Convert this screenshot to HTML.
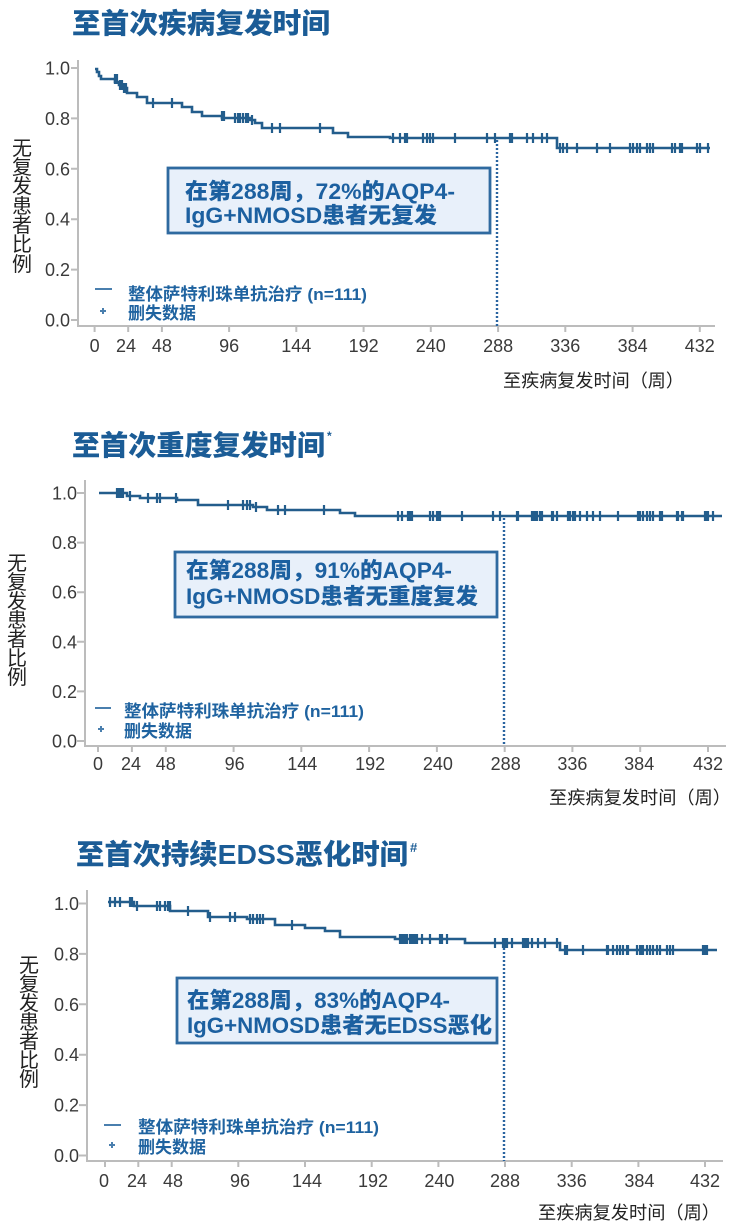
<!DOCTYPE html>
<html><head><meta charset="utf-8"><style>
html,body{margin:0;padding:0;background:#fff;}
svg{display:block;}
text{font-family:"Liberation Sans","Noto Sans CJK SC",sans-serif;}
.t{font-size:28px;font-weight:900;fill:#1b5c96;}
.tk{font-size:18px;fill:#3a3a3a;}
.ya{font-size:20px;fill:#222;text-anchor:middle;}
.xa{font-size:18px;fill:#222;}
.lg{font-size:17px;font-weight:bold;fill:#1f63a0;}
.bx{font-size:22px;font-weight:900;fill:#1c60a0;}
.ax{stroke:#bcbcbc;stroke-width:2;fill:none;}
.cv{stroke:#235d8c;stroke-width:2.6;fill:none;}
.cs{stroke:#235d8c;stroke-width:2.2;fill:none;}
.dt{stroke:#2a64a0;stroke-width:2.4;stroke-dasharray:2 2;fill:none;}
.box{fill:#e8f0fa;stroke:#2f6aa0;stroke-width:2.8;}
.lgm{stroke:#4a7fae;stroke-width:2;fill:none;}
</style></head><body>
<svg width="742" height="1232" viewBox="0 0 742 1232" xmlns="http://www.w3.org/2000/svg">

<!-- ================= CHART 1 ================= -->
<text class="t" x="72" y="33" textLength="258" lengthAdjust="spacingAndGlyphs">至首次疾病复发时间</text>

<g class="ya">
<text x="22" y="155">无</text><text x="22" y="174">复</text><text x="22" y="193">发</text><text x="22" y="213">患</text><text x="22" y="232">者</text><text x="22" y="251">比</text><text x="22" y="271">例</text>
</g>

<path class="ax" d="M78 60V326H715"/>
<path class="ax" d="M71 68H78M71 118.4H78M71 168.8H78M71 219.2H78M71 269.6H78M71 320H78"/>
<path class="ax" d="M94.6 326v6M128.2 326v6M161.9 326v6M229.1 326v6M296.3 326v6M363.6 326v6M430.8 326v6M498.1 326v6M565.3 326v6M632.6 326v6M699.8 326v6"/>
<g class="tk" text-anchor="end">
<text x="70" y="74.5">1.0</text><text x="70" y="124.9">0.8</text><text x="70" y="175.3">0.6</text><text x="70" y="225.7">0.4</text><text x="70" y="276.1">0.2</text><text x="70" y="326.5">0.0</text>
</g>
<g class="tk" text-anchor="middle">
<text x="94.6" y="352">0</text><text x="126" y="352">24</text><text x="161.9" y="352">48</text><text x="229.1" y="352">96</text><text x="296.3" y="352">144</text><text x="363.6" y="352">192</text><text x="430.8" y="352">240</text><text x="498.1" y="352">288</text><text x="565.3" y="352">336</text><text x="632.6" y="352">384</text><text x="699.8" y="352">432</text>
</g>
<text class="xa" x="503" y="387" textLength="181" lengthAdjust="spacingAndGlyphs">至疾病复发时间（周）</text>

<path class="dt" d="M497 140V326"/>
<path class="cv" d="M95 69H97V72H99V76H101V79H115V82H119V85H123V88H127V93H137V97H147V103H182V107H192V112H202V116H222V118H250V120H255V123H262V128H333V133H348V137H390V138H557V148H710"/>
<path class="cs" d="M115 74v10M117 74v10M120 80v10M122 80v10M124 83v10M126 83v10M153 98v10M172 98v10M222 111v10M224 111v10M235 113v10M238 113v10M240 113v10M243 113v10M246 113v10M248 113v10M252 115v10M272 123v10M280 123v10M320 123v10M393 133v10M400 133v10M405 133v10M407 133v10M423 133v10M427 133v10M430 133v10M433 133v10M455 133v10M487 133v10M495 133v10M510 133v10M512 133v10M527 133v10M533 133v10M542 133v10M547 133v10M560 143v10M563 143v10M567 143v10M577 143v10M597 143v10M610 143v10M630 143v10M633 143v10M637 143v10M640 143v10M647 143v10M650 143v10M653 143v10M672 143v10M675 143v10M680 143v10M682 143v10M697 143v10M700 143v10M708 143v10"/>

<rect class="box" x="168" y="168" width="322" height="65"/>
<text class="bx" x="185" y="199" textLength="270" lengthAdjust="spacingAndGlyphs">在第288周，72%的AQP4-</text>
<text class="bx" x="185" y="223" textLength="252" lengthAdjust="spacingAndGlyphs">IgG+NMOSD患者无复发</text>

<path class="lgm" d="M95 289H112M100 311H106M103 308V314"/>
<text class="lg" x="128" y="300" textLength="239" lengthAdjust="spacingAndGlyphs">整体萨特利珠单抗治疗 (n=111)</text>
<text class="lg" x="128" y="319" textLength="68" lengthAdjust="spacingAndGlyphs">删失数据</text>

<!-- ================= CHART 2 ================= -->
<text class="t" x="72" y="455" textLength="253" lengthAdjust="spacingAndGlyphs">至首次重度复发时间</text>
<text x="327" y="440" style="font-size:12px;font-weight:bold;fill:#1b5c96">*</text>

<g class="ya">
<text x="17" y="570">无</text><text x="17" y="589">复</text><text x="17" y="608">发</text><text x="17" y="627">患</text><text x="17" y="646">者</text><text x="17" y="665">比</text><text x="17" y="684">例</text>
</g>

<path class="ax" d="M85 480V746H726"/>
<path class="ax" d="M77 493H85M77 542.6H85M77 592.2H85M77 641.8H85M77 691.4H85M77 741H85"/>
<path class="ax" d="M98 746v6M131.9 746v6M165.8 746v6M233.6 746v6M301.3 746v6M369.1 746v6M436.9 746v6M504.7 746v6M572.4 746v6M640.2 746v6M708 746v6"/>
<g class="tk" text-anchor="end">
<text x="77" y="499.5">1.0</text><text x="77" y="549.1">0.8</text><text x="77" y="598.7">0.6</text><text x="77" y="648.3">0.4</text><text x="77" y="697.9">0.2</text><text x="77" y="747.5">0.0</text>
</g>
<g class="tk" text-anchor="middle">
<text x="98" y="770">0</text><text x="131" y="770">24</text><text x="165.8" y="770">48</text><text x="234.6" y="770">96</text><text x="302.3" y="770">144</text><text x="370.1" y="770">192</text><text x="437.9" y="770">240</text><text x="505.7" y="770">288</text><text x="572.4" y="770">336</text><text x="639.2" y="770">384</text><text x="708" y="770">432</text>
</g>
<text class="xa" x="549" y="804" textLength="182" lengthAdjust="spacingAndGlyphs">至疾病复发时间（周）</text>

<path class="dt" d="M504 518V746"/>
<path class="cv" d="M99 493H127V496H140V498H177V500H198V505H253V507H267V510H340V513H355V516H722"/>
<path class="cs" d="M117 488v10M119 488v10M121 488v10M123 488v10M130 491v10M148 493v10M157 493v10M160 493v10M176 493v10M228 500v10M243 500v10M247 500v10M250 500v10M256 502v10M278 505v10M285 505v10M324 505v10M398 511v10M402 511v10M408 511v10M410 511v10M412 511v10M430 511v10M433 511v10M437 511v10M438 511v10M440 511v10M462 511v10M493 511v10M500 511v10M517 511v10M518 511v10M532 511v10M533 511v10M535 511v10M537 511v10M540 511v10M542 511v10M552 511v10M553 511v10M557 511v10M568 511v10M570 511v10M573 511v10M575 511v10M580 511v10M587 511v10M593 511v10M600 511v10M618 511v10M638 511v10M640 511v10M643 511v10M647 511v10M650 511v10M653 511v10M660 511v10M662 511v10M677 511v10M678 511v10M682 511v10M683 511v10M705 511v10M707 511v10M708 511v10M713 511v10"/>

<rect class="box" x="175" y="552" width="322" height="65"/>
<text class="bx" x="186" y="578" textLength="266" lengthAdjust="spacingAndGlyphs">在第288周，91%的AQP4-</text>
<text class="bx" x="186" y="604" textLength="292" lengthAdjust="spacingAndGlyphs">IgG+NMOSD患者无重度复发</text>

<path class="lgm" d="M95 708H111M98 729H104M101 726V732"/>
<text class="lg" x="124" y="717" textLength="240" lengthAdjust="spacingAndGlyphs">整体萨特利珠单抗治疗 (n=111)</text>
<text class="lg" x="124" y="737" textLength="68" lengthAdjust="spacingAndGlyphs">删失数据</text>

<!-- ================= CHART 3 ================= -->
<text class="t" x="76" y="864" textLength="332" lengthAdjust="spacingAndGlyphs">至首次持续EDSS恶化时间</text>
<text x="410" y="852" style="font-size:13px;font-weight:bold;fill:#1b5c96">#</text>

<g class="ya">
<text x="29" y="972">无</text><text x="29" y="991">复</text><text x="29" y="1010">发</text><text x="29" y="1029">患</text><text x="29" y="1048">者</text><text x="29" y="1067">比</text><text x="29" y="1086">例</text>
</g>

<path class="ax" d="M87 890V1161H723"/>
<path class="ax" d="M79 903.5H87M79 953.9H87M79 1004.3H87M79 1054.7H87M79 1105.1H87M79 1155.5H87"/>
<path class="ax" d="M105 1161v6M138.3 1161v6M171.7 1161v6M238.3 1161v6M305 1161v6M371.7 1161v6M438.4 1161v6M505 1161v6M571.7 1161v6M638.4 1161v6M705 1161v6"/>
<g class="tk" text-anchor="end">
<text x="79" y="910">1.0</text><text x="79" y="960.4">0.8</text><text x="79" y="1010.8">0.6</text><text x="79" y="1061.2">0.4</text><text x="79" y="1111.6">0.2</text><text x="79" y="1162">0.0</text>
</g>
<g class="tk" text-anchor="middle">
<text x="104" y="1187">0</text><text x="137" y="1187">24</text><text x="173" y="1187">48</text><text x="240" y="1187">96</text><text x="307" y="1187">144</text><text x="373" y="1187">192</text><text x="439.4" y="1187">240</text><text x="505" y="1187">288</text><text x="571.7" y="1187">336</text><text x="639.4" y="1187">384</text><text x="705" y="1187">432</text>
</g>
<text class="xa" x="538" y="1219" textLength="182" lengthAdjust="spacingAndGlyphs">至疾病复发时间（周）</text>

<path class="dt" d="M504 944V1161"/>
<path class="cv" d="M108 902H134V906H170V911H208V917H247V919H275V925H305V928H325V931H340V937H395V939H465V943H560V950H717"/>
<path class="cs" d="M110 897v10M115 897v10M120 897v10M130 897v10M132 897v10M137 901v10M157 901v10M160 901v10M165 901v10M168 901v10M170 901v10M188 906v10M210 912v10M230 912v10M235 912v10M250 914v10M253 914v10M257 914v10M260 914v10M263 914v10M292 920v10M400 934v10M402 934v10M403 934v10M405 934v10M407 934v10M410 934v10M412 934v10M413 934v10M415 934v10M417 934v10M422 934v10M430 934v10M440 934v10M442 934v10M447 934v10M495 938v10M503 938v10M505 938v10M507 938v10M512 938v10M523 938v10M525 938v10M527 938v10M528 938v10M532 938v10M538 938v10M545 938v10M557 938v10M565 945v10M567 945v10M583 945v10M607 945v10M608 945v10M613 945v10M617 945v10M620 945v10M623 945v10M627 945v10M628 945v10M637 945v10M640 945v10M642 945v10M643 945v10M647 945v10M650 945v10M653 945v10M657 945v10M660 945v10M667 945v10M670 945v10M673 945v10M703 945v10M705 945v10M707 945v10"/>

<rect class="box" x="177" y="978" width="320" height="65"/>
<text class="bx" x="187" y="1008" textLength="263" lengthAdjust="spacingAndGlyphs">在第288周，83%的AQP4-</text>
<text class="bx" x="187" y="1033" textLength="305" lengthAdjust="spacingAndGlyphs">IgG+NMOSD患者无EDSS恶化</text>

<path class="lgm" d="M104 1125H121M109 1145H115M112 1142V1148"/>
<text class="lg" x="138" y="1133" textLength="241" lengthAdjust="spacingAndGlyphs">整体萨特利珠单抗治疗 (n=111)</text>
<text class="lg" x="138" y="1153" textLength="68" lengthAdjust="spacingAndGlyphs">删失数据</text>

</svg>
</body></html>
